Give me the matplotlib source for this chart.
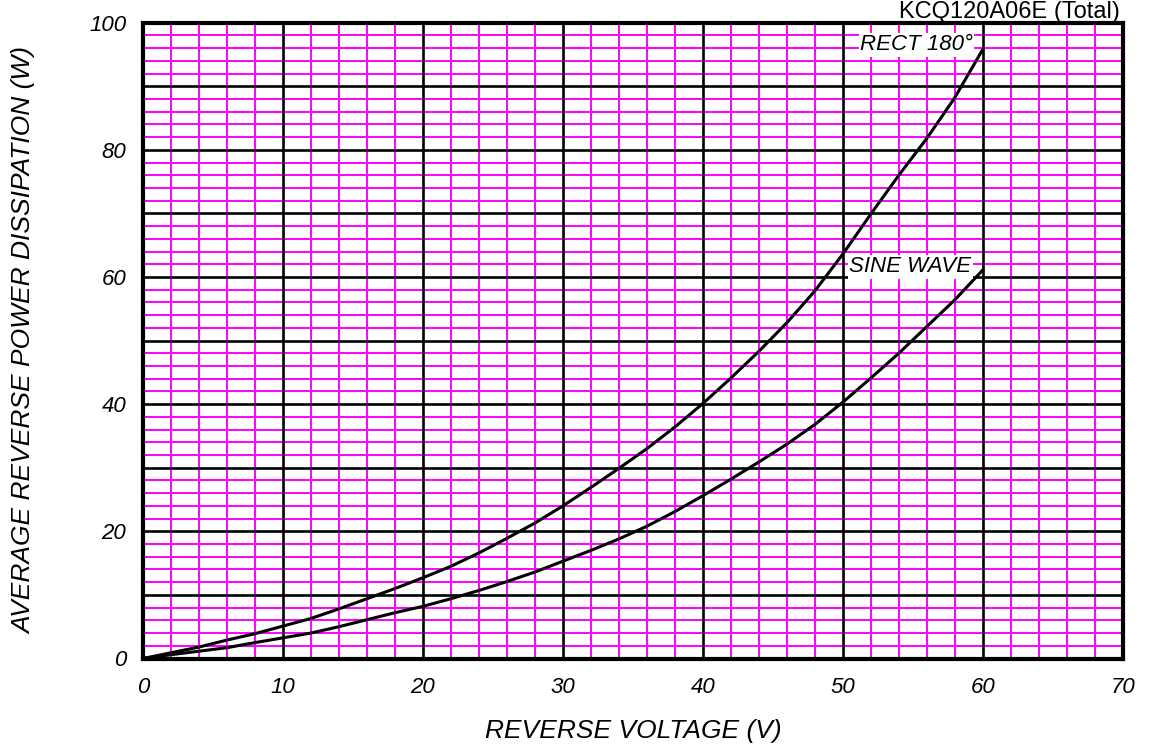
import matplotlib
matplotlib.use("Agg")
import matplotlib.pyplot as plt
from matplotlib.ticker import MultipleLocator, FuncFormatter

plt.rcParams['font.family'] = ['Liberation Sans', 'DejaVu Sans']

# Data
voltage = [0, 2, 4, 6, 8, 10, 12, 14, 16, 18, 20, 22, 24, 26, 28, 30,
           32, 34, 36, 38, 40, 42, 44, 46, 48, 50, 52, 54, 56, 58, 60]
rect_180 = [0, 0.9, 1.8, 2.9, 3.9, 5.1, 6.3, 7.8, 9.4, 11.0, 12.7, 14.5, 16.6,
            18.9, 21.3, 24.0, 26.9, 29.9, 33.0, 36.4, 40.1, 44.1, 48.3, 52.8,
            57.8, 63.6, 69.9, 76.0, 81.8, 88.2, 95.8]
sine_wave = [0, 0.6, 1.15, 1.7, 2.5, 3.25, 4.0, 5.0, 6.1, 7.2, 8.2, 9.4, 10.7,
             12.1, 13.6, 15.3, 17.0, 18.8, 20.8, 23.1, 25.6, 28.2, 30.9, 33.7,
             36.8, 40.3, 44.1, 48.0, 52.2, 56.4, 61.1]

x_label = "REVERSE VOLTAGE (V)"
y_label = "AVERAGE REVERSE POWER DISSIPATION (W)"
title = "KCQ120A06E (Total)"

W, H = 1156, 749
fig = plt.figure(figsize=(W / 100, H / 100), dpi=100)
ax = fig.add_axes([143 / W, 1 - 658.5 / H, 979.7 / W, 635.8 / H])

ax.set_xlim(0, 70)
ax.set_ylim(0, 100)

ax.xaxis.set_major_locator(MultipleLocator(10))
ax.yaxis.set_major_locator(MultipleLocator(10))
ax.xaxis.set_minor_locator(MultipleLocator(2))
ax.yaxis.set_minor_locator(MultipleLocator(2))
ax.yaxis.set_major_formatter(FuncFormatter(
    lambda v, p: f"{int(round(v))}" if int(round(v)) % 20 == 0 else ""))
ax.xaxis.set_major_formatter(FuncFormatter(lambda v, p: f"{int(round(v))}"))

# magenta minor grid underneath, black major grid on top of it
ax.grid(which='minor', color='#FF00FF', linewidth=1.4, zorder=0)
ax.grid(which='major', visible=False)
for v in ax.get_xticks():
    if 0 < v < 70:
        ax.axvline(v, color='black', linewidth=1.9, zorder=1.5)
for v in ax.get_yticks():
    if 0 < v < 100:
        ax.axhline(v, color='black', linewidth=1.9, zorder=1.5)
ax.set_axisbelow(True)

ax.tick_params(which='both', length=0)
ax.tick_params(axis='x', pad=13, labelsize=16)
ax.tick_params(axis='y', pad=12, labelsize=16)
for lab in ax.get_xticklabels() + ax.get_yticklabels():
    lab.set_fontstyle('italic')

for s in ax.spines.values():
    s.set_linewidth(3)
    s.set_color('black')
    s.set_zorder(5)

ax.plot(voltage, rect_180, color='black', linewidth=2.2, zorder=3,
        solid_joinstyle='round')
ax.plot(voltage, sine_wave, color='black', linewidth=2.2, zorder=3,
        solid_joinstyle='round')

bbox = dict(facecolor='white', edgecolor='none', pad=1)
ax.text(59.3, 96.5, "RECT 180°", ha='right', va='center', fontsize=16,
        fontstyle='italic', bbox=bbox, zorder=4)
ax.text(59.2, 61.6, "SINE WAVE", ha='right', va='center', fontsize=16,
        fontstyle='italic', bbox=bbox, zorder=4)

ax.set_xlabel(x_label, fontsize=19, fontstyle='italic')
ax.set_ylabel(y_label, fontsize=19, fontstyle='italic')
ax.xaxis.label.set_va('center')
ax.yaxis.label.set_va('center')
ax.xaxis.set_label_coords(0.5, (658.5 - 731) / 635.8)
ax.yaxis.set_label_coords((24 - 143) / 979.7, 0.5)

fig.text(1120 / W, 1 - 1 / H, title, ha='right', va='top', fontsize=17)

fig.savefig("out.png", dpi=100)
